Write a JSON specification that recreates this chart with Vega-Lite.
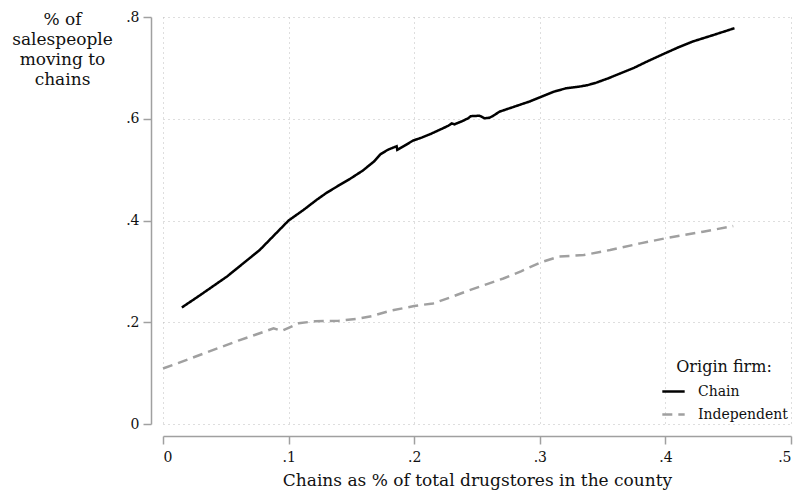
{
  "$schema": "https://vega.github.io/schema/vega-lite/v6.json",
  "width": 628,
  "height": 407,
  "autosize": "none",
  "padding": {"left": 163, "top": 17, "right": 8, "bottom": 69},
  "background": "white",
  "config": {
    "view": {"stroke": null},
    "font": "DejaVu Serif",
    "axis": {
      "domainColor": "#a0a0a0",
      "domainWidth": 1.5,
      "tickColor": "#a0a0a0",
      "tickWidth": 1.5,
      "tickSize": 8,
      "gridColor": "#bdbdbd",
      "gridDash": [1, 4],
      "gridWidth": 1,
      "labelColor": "#111",
      "labelFont": "DejaVu Serif",
      "labelFontSize": 14,
      "titleColor": "#111",
      "titleFont": "DejaVu Serif",
      "titleFontWeight": "normal",
      "labelExpr": "datum.value == 0 ? '0' : replace(format(datum.value, '.1f'), '0.', '.')"
    }
  },
  "data": {
    "values": [
      {"share": 0.015, "moved": 0.229, "firm": "Chain"},
      {"share": 0.03, "moved": 0.254, "firm": "Chain"},
      {"share": 0.051, "moved": 0.29, "firm": "Chain"},
      {"share": 0.077, "moved": 0.342, "firm": "Chain"},
      {"share": 0.1, "moved": 0.4, "firm": "Chain"},
      {"share": 0.112, "moved": 0.421, "firm": "Chain"},
      {"share": 0.122, "moved": 0.44, "firm": "Chain"},
      {"share": 0.13, "moved": 0.454, "firm": "Chain"},
      {"share": 0.14, "moved": 0.469, "firm": "Chain"},
      {"share": 0.149, "moved": 0.482, "firm": "Chain"},
      {"share": 0.159, "moved": 0.498, "firm": "Chain"},
      {"share": 0.168, "moved": 0.516, "firm": "Chain"},
      {"share": 0.173, "moved": 0.53, "firm": "Chain"},
      {"share": 0.179, "moved": 0.539, "firm": "Chain"},
      {"share": 0.183, "moved": 0.543, "firm": "Chain"},
      {"share": 0.186, "moved": 0.546, "firm": "Chain"},
      {"share": 0.1865, "moved": 0.539, "firm": "Chain"},
      {"share": 0.193, "moved": 0.548, "firm": "Chain"},
      {"share": 0.199, "moved": 0.557, "firm": "Chain"},
      {"share": 0.206, "moved": 0.563, "firm": "Chain"},
      {"share": 0.213, "moved": 0.57, "firm": "Chain"},
      {"share": 0.22, "moved": 0.578, "firm": "Chain"},
      {"share": 0.227, "moved": 0.586, "firm": "Chain"},
      {"share": 0.23, "moved": 0.591, "firm": "Chain"},
      {"share": 0.232, "moved": 0.589, "firm": "Chain"},
      {"share": 0.238, "moved": 0.595, "firm": "Chain"},
      {"share": 0.243, "moved": 0.601, "firm": "Chain"},
      {"share": 0.245, "moved": 0.605, "firm": "Chain"},
      {"share": 0.252, "moved": 0.606, "firm": "Chain"},
      {"share": 0.256, "moved": 0.601, "firm": "Chain"},
      {"share": 0.26, "moved": 0.602, "firm": "Chain"},
      {"share": 0.263, "moved": 0.606, "firm": "Chain"},
      {"share": 0.268, "moved": 0.614, "firm": "Chain"},
      {"share": 0.28, "moved": 0.624, "firm": "Chain"},
      {"share": 0.292, "moved": 0.634, "firm": "Chain"},
      {"share": 0.3, "moved": 0.642, "firm": "Chain"},
      {"share": 0.311, "moved": 0.653, "firm": "Chain"},
      {"share": 0.321, "moved": 0.66, "firm": "Chain"},
      {"share": 0.331, "moved": 0.663, "firm": "Chain"},
      {"share": 0.338, "moved": 0.666, "firm": "Chain"},
      {"share": 0.345, "moved": 0.671, "firm": "Chain"},
      {"share": 0.354, "moved": 0.679, "firm": "Chain"},
      {"share": 0.364, "moved": 0.689, "firm": "Chain"},
      {"share": 0.375, "moved": 0.7, "firm": "Chain"},
      {"share": 0.385, "moved": 0.712, "firm": "Chain"},
      {"share": 0.4, "moved": 0.729, "firm": "Chain"},
      {"share": 0.41, "moved": 0.74, "firm": "Chain"},
      {"share": 0.422, "moved": 0.752, "firm": "Chain"},
      {"share": 0.44, "moved": 0.766, "firm": "Chain"},
      {"share": 0.455, "moved": 0.778, "firm": "Chain"},
      {"share": 0.0, "moved": 0.109, "firm": "Independent"},
      {"share": 0.02, "moved": 0.127, "firm": "Independent"},
      {"share": 0.047, "moved": 0.152, "firm": "Independent"},
      {"share": 0.06, "moved": 0.164, "firm": "Independent"},
      {"share": 0.073, "moved": 0.175, "firm": "Independent"},
      {"share": 0.088, "moved": 0.188, "firm": "Independent"},
      {"share": 0.0945, "moved": 0.183, "firm": "Independent"},
      {"share": 0.1, "moved": 0.189, "firm": "Independent"},
      {"share": 0.108, "moved": 0.198, "firm": "Independent"},
      {"share": 0.121, "moved": 0.202, "firm": "Independent"},
      {"share": 0.14, "moved": 0.203, "firm": "Independent"},
      {"share": 0.155, "moved": 0.207, "firm": "Independent"},
      {"share": 0.166, "moved": 0.212, "firm": "Independent"},
      {"share": 0.18, "moved": 0.222, "firm": "Independent"},
      {"share": 0.2, "moved": 0.232, "firm": "Independent"},
      {"share": 0.215, "moved": 0.237, "firm": "Independent"},
      {"share": 0.23, "moved": 0.25, "firm": "Independent"},
      {"share": 0.244, "moved": 0.263, "firm": "Independent"},
      {"share": 0.258, "moved": 0.275, "firm": "Independent"},
      {"share": 0.271, "moved": 0.286, "firm": "Independent"},
      {"share": 0.285, "moved": 0.3, "firm": "Independent"},
      {"share": 0.3, "moved": 0.317, "firm": "Independent"},
      {"share": 0.315, "moved": 0.329, "firm": "Independent"},
      {"share": 0.335, "moved": 0.332, "firm": "Independent"},
      {"share": 0.356, "moved": 0.342, "firm": "Independent"},
      {"share": 0.38, "moved": 0.355, "firm": "Independent"},
      {"share": 0.4, "moved": 0.365, "firm": "Independent"},
      {"share": 0.43, "moved": 0.378, "firm": "Independent"},
      {"share": 0.454, "moved": 0.389, "firm": "Independent"}
    ]
  },
  "mark": {"type": "line", "strokeWidth": 2.5, "interpolate": "linear"},
  "encoding": {
    "x": {
      "field": "share",
      "type": "quantitative",
      "scale": {"domain": [0, 0.5], "nice": false, "zero": false},
      "axis": {
        "values": [0, 0.1, 0.2, 0.3, 0.4, 0.5],
        "offset": 12,
        "labelPadding": 6,
        "title": "Chains as % of total drugstores in the county",
        "titleFontSize": 17,
        "titlePadding": 8
      }
    },
    "y": {
      "field": "moved",
      "type": "quantitative",
      "scale": {"domain": [0, 0.8], "nice": false, "zero": false},
      "axis": {
        "values": [0, 0.2, 0.4, 0.6, 0.8],
        "offset": 12,
        "labelPadding": 4,
        "labelAngle": 0,
        "title": ["% of", "salespeople", "moving to", "chains"],
        "titleFontSize": 17,
        "titleLineHeight": 20,
        "titleAngle": 0,
        "titleAlign": "center",
        "titleBaseline": "alphabetic",
        "titleX": -89,
        "titleY": 7
      }
    },
    "color": {
      "field": "firm",
      "type": "nominal",
      "scale": {"domain": ["Chain", "Independent"], "range": ["#000000", "#a0a0a0"]},
      "legend": {
        "title": "Origin firm:",
        "orient": "none",
        "legendX": 498,
        "legendY": 342,
        "titleFontSize": 16,
        "titleFont": "DejaVu Serif",
        "titleFontWeight": "normal",
        "titleColor": "#111",
        "titleAnchor": "middle",
        "titlePadding": 4,
        "labelFontSize": 14,
        "labelFont": "DejaVu Serif",
        "labelColor": "#111",
        "labelOffset": 12,
        "rowPadding": 3,
        "symbolType": "stroke",
        "symbolSize": 500,
        "symbolStrokeWidth": 2.5,
        "padding": 0
      }
    },
    "strokeDash": {
      "field": "firm",
      "type": "nominal",
      "scale": {"domain": ["Chain", "Independent"], "range": [[1, 0], [10, 6]]},
      "legend": null
    }
  }
}
